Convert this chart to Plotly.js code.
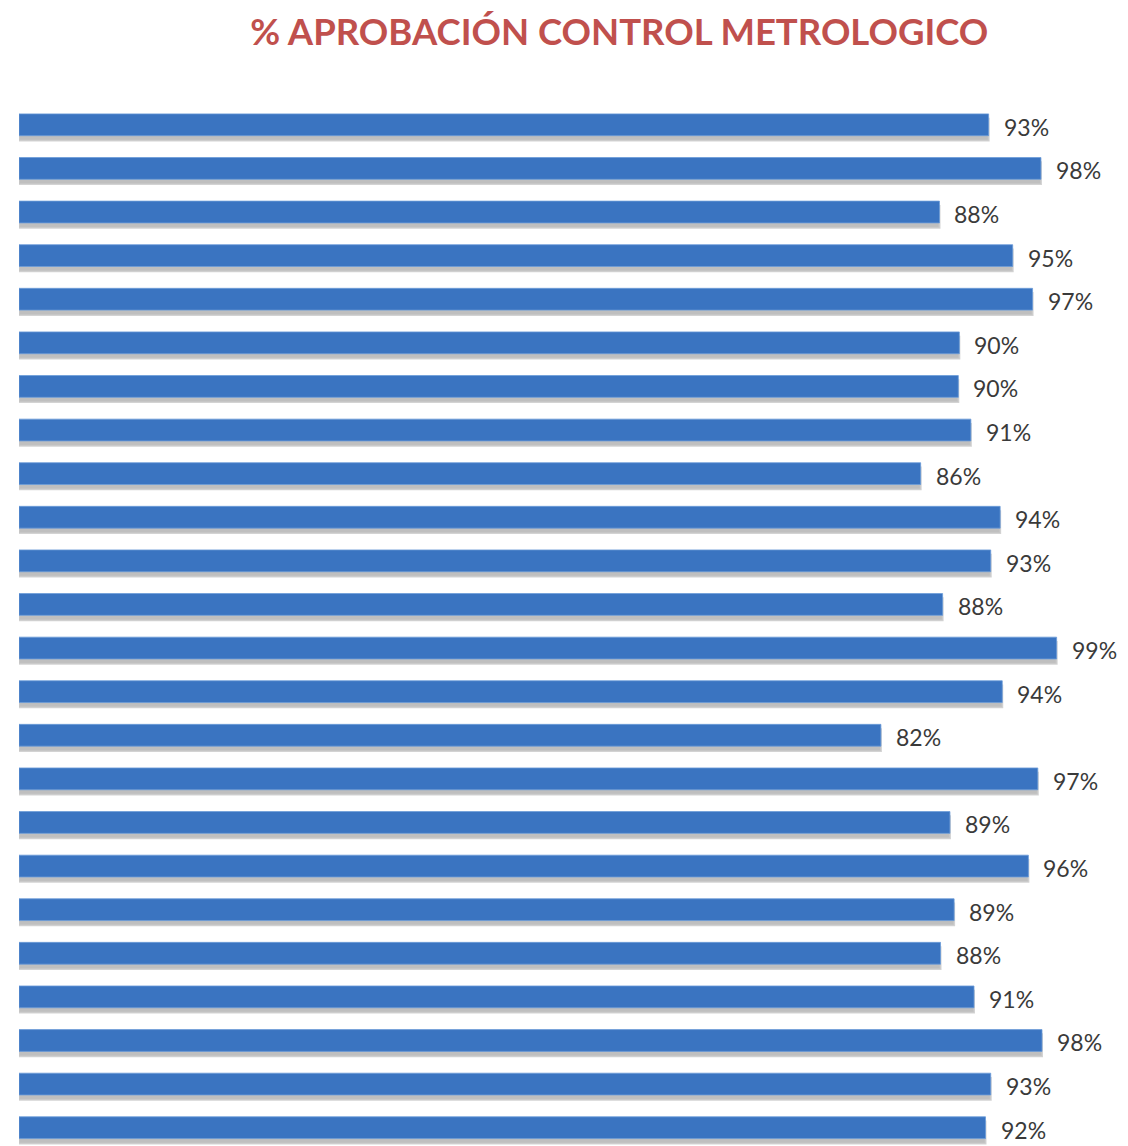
<!DOCTYPE html>
<html>
<head>
<meta charset="utf-8">
<script src="https://cdn.plot.ly/plotly-3.0.1.min.js"></script>
<style>html,body{margin:0;padding:0;background:#fff;}#chart{width:1128px;height:1146px;}</style>
</head>
<body>
<div id="chart"></div>
<script>
// Categories (not labelled in the original chart)
const categories = ["Fila 1","Fila 2","Fila 3","Fila 4","Fila 5","Fila 6","Fila 7","Fila 8",
  "Fila 9","Fila 10","Fila 11","Fila 12","Fila 13","Fila 14","Fila 15","Fila 16",
  "Fila 17","Fila 18","Fila 19","Fila 20","Fila 21","Fila 22","Fila 23","Fila 24"];
// Approval share per row
const approval = [0.927, 0.977, 0.880, 0.950, 0.969, 0.899, 0.898, 0.910, 0.862, 0.938, 0.929, 0.883,
  0.992, 0.940, 0.824, 0.974, 0.890, 0.965, 0.894, 0.881, 0.913, 0.978, 0.929, 0.924];
// Data labels as printed
const labels = ["93%","98%","88%","95%","97%","90%","90%","91%","86%","94%","93%","88%",
  "99%","94%","82%","97%","89%","96%","89%","88%","91%","98%","93%","92%"];

const shadow = {
  type: 'bar', orientation: 'h', x: approval, y: categories,
  width: 0.5, offset: -0.14,
  marker: {color: 'rgba(170,170,170,0.75)', line: {color: 'rgba(200,200,200,0.8)', width: 2}},
  hoverinfo: 'skip', showlegend: false
};
const bars = {
  type: 'bar', orientation: 'h', x: approval, y: categories,
  width: 0.5, offset: -0.25,
  marker: {color: '#3A74C1', line: {color: '#6C9CD8', width: 0.8}},
  showlegend: false
};

const annotations = approval.map((v, i) => ({
  x: v, y: categories[i], xref: 'x', yref: 'y', text: labels[i],
  showarrow: false, xanchor: 'left', yanchor: 'middle', xshift: 13, yshift: -2,
  font: {family: 'Lato, sans-serif', size: 23, color: '#3a3a3a'}
}));

const layout = {
  width: 1128, height: 1146,
  margin: {l: 19, r: 63, t: 103, b: 0},
  paper_bgcolor: '#ffffff', plot_bgcolor: '#ffffff',
  barmode: 'overlay',
  title: {
    text: '% APROBACIÓN CONTROL METROLOGICO',
    x: 0.549, xref: 'container', xanchor: 'center',
    y: 0.972, yref: 'container', yanchor: 'middle',
    font: {family: 'Lato, sans-serif', size: 36.5, color: '#C0504D', weight: 'bold'}
  },
  xaxis: {range: [0, 1], showgrid: false, zeroline: false, showticklabels: false, showline: false, ticks: ''},
  yaxis: {type: 'category', categoryorder: 'array', categoryarray: categories,
          range: [23.42, -0.5], showgrid: false, zeroline: false,
          showticklabels: false, showline: false, ticks: ''},
  annotations: annotations
};

Plotly.newPlot('chart', [shadow, bars], layout, {displayModeBar: false, staticPlot: true});
</script>
</body>
</html>
